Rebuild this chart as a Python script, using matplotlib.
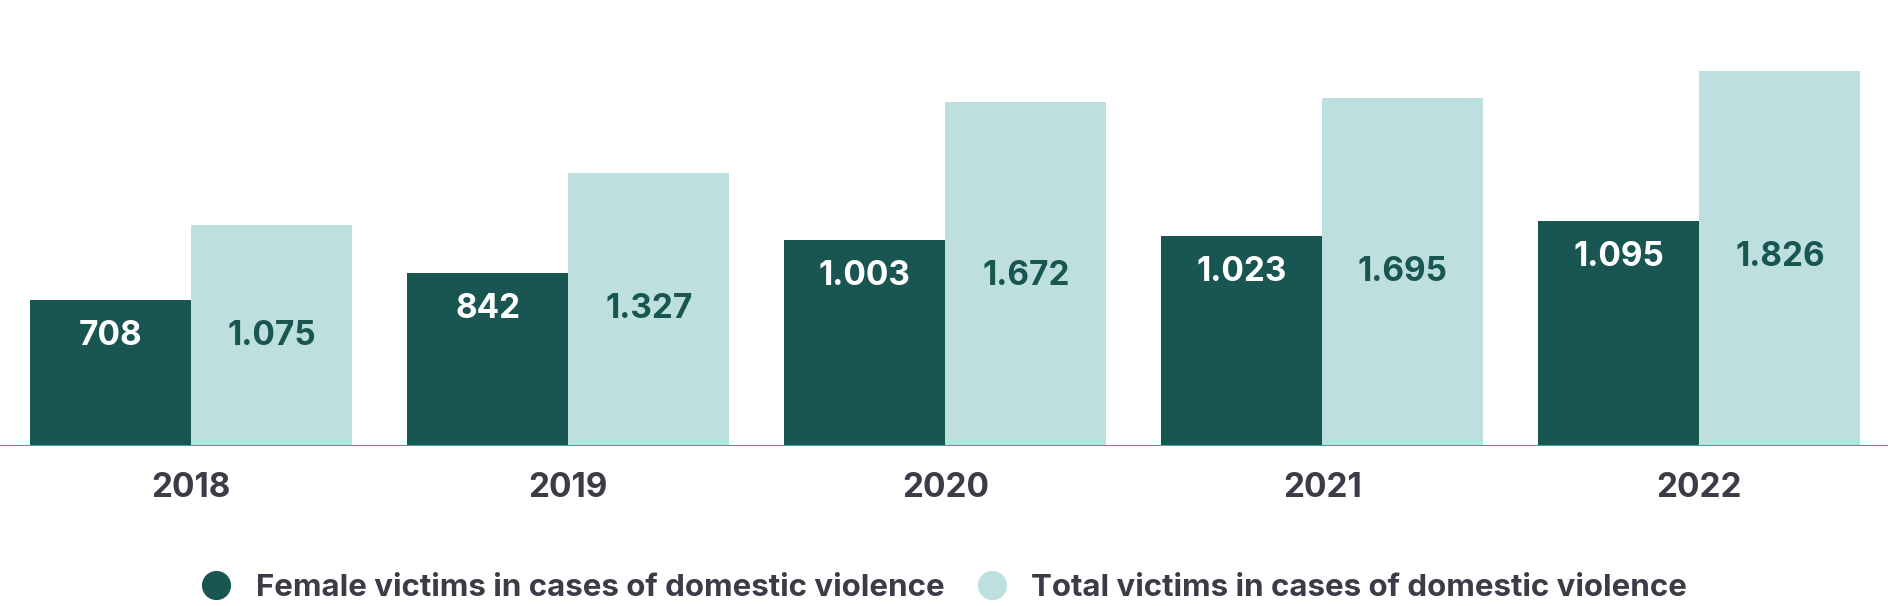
import matplotlib.pyplot as plt
from matplotlib.lines import Line2D
import numpy as np

plt.rcParams['font.family'] = ['Inter', 'DejaVu Sans']

# data
years = ["2018", "2019", "2020", "2021", "2022"]
female_victims = [708, 842, 1003, 1023, 1095]
total_victims = [1075, 1327, 1672, 1695, 1826]
female_labels = ["708", "842", "1.003", "1.023", "1.095"]
total_labels = ["1.075", "1.327", "1.672", "1.695", "1.826"]

dark = "#1a5651"
light = "#bde0df"
text_grey = "#3b3c45"
axis_teal = "#3aa69a"

fig = plt.figure(figsize=(18.88, 6.06), dpi=100)
ax = fig.add_axes([0, 0.264, 1, 0.736])

x = np.arange(len(years))
w = 0.427
ax.bar(x - w / 2, female_victims, width=w, color=dark, zorder=2)
ax.bar(x + w / 2, total_victims, width=w, color=light, zorder=2)

# value labels sit at the same height, just below the top of the female bar
for i in range(len(years)):
    ax.annotate(female_labels[i], (x[i] - w / 2, female_victims[i]),
                xytext=(0, -45 * 0.72), textcoords="offset points",
                ha="center", va="baseline", fontsize=24, fontweight="bold",
                color="white", zorder=3)
    ax.annotate(total_labels[i], (x[i] + w / 2, female_victims[i]),
                xytext=(0, -45 * 0.72), textcoords="offset points",
                ha="center", va="baseline", fontsize=24, fontweight="bold",
                color=dark, zorder=3)
    ax.annotate(years[i], (x[i], 0), xytext=(0, -51 * 0.72),
                textcoords="offset points", ha="center", va="baseline",
                fontsize=24, fontweight="bold", color=text_grey,
                annotation_clip=False)

ax.axhline(0, color=axis_teal, lw=2.2, zorder=4)
ax.set_xlim(-0.507, 4.50)
ax.set_ylim(0, 2170)
ax.axis("off")

handles = [
    Line2D([], [], marker="o", ls="none", color=dark, markersize=20),
    Line2D([], [], marker="o", ls="none", color=light, markersize=20),
]
fig.legend(handles,
           ["Female victims in cases of domestic violence",
            "Total victims in cases of domestic violence"],
           loc="center", bbox_to_anchor=(0.5, 0.03), ncol=2, frameon=False,
           prop={"size": 22.5, "weight": "bold"}, labelcolor=text_grey,
           handlelength=1, handletextpad=0.75, columnspacing=1.04,
           borderpad=0, borderaxespad=0)

fig.savefig("out.png", dpi=100)
